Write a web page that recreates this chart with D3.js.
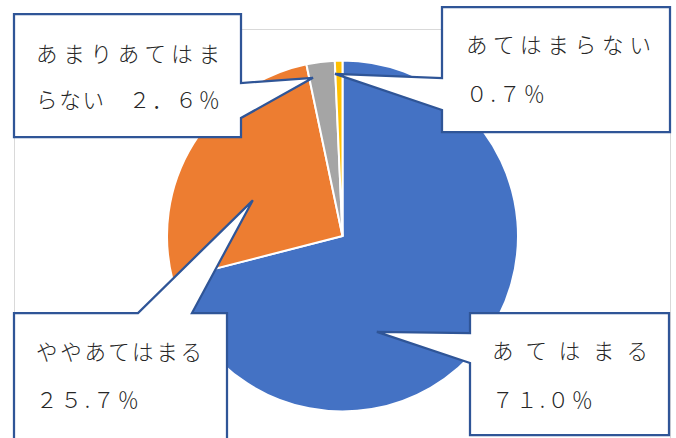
<!DOCTYPE html>
<html><head><meta charset="utf-8">
<script src="https://cdn.jsdelivr.net/npm/d3@7"></script>
<style>
html,body{margin:0;padding:0;background:#fff;}
svg{display:block;}
text{font-family:"Noto Sans CJK JP","Noto Sans",sans-serif;font-weight:300;fill:#262626;}
</style></head>
<body><svg id="c" width="676" height="438"></svg>
<script>
// ---- data ----
const categories = ["あてはまる", "ややあてはまる", "あまりあてはまらない", "あてはまらない"];
const values = [71.0, 25.7, 2.6, 0.7];
const labelLine1 = ["あてはまる", "ややあてはまる", "あまりあてはま", "あてはまらない"];
const labelLine2 = ["７１.０％", "２５.７％", "らない　２．６％", "０.７％"];
const colors = ["#4472C4", "#ED7D31", "#A5A5A5", "#FFC000"];

// ---- layout ----
const W = 676, H = 438;
const cx = 342.5, cy = 236, R = 175.5;
const FS = 21.5;
// callout box: rect x0,y0,x1,y1 ; side with pointer ; pointer base range ; tip (fraction in slice, radius ratio)
const callouts = [
  {box:[470,313,669,435], side:"left",  base:[333,363], f:0.627, k:0.58,
   l1:{x:492,y:349,w:156}, l2:{x:492,y:398,w:101}},
  {box:[14,313,227,470],  side:"top",   base:[138,192], f:0.39,  k:0.55,
   l1:{x:36,y:350,w:166}, l2:{x:36,y:398,w:103}},
  {box:[14,14,241,137],   side:"right", base:[83,118],  f:0.14,  k:0.917,
   l1:{x:36,y:52,w:184}, l2:{x:36,y:98,w:184}},
  {box:[442,7,670,132],   side:"left",  base:[78,110],  f:-0.05, k:0.925,
   l1:{x:466,y:43,w:185}, l2:{x:466,y:92,w:79}}
];

const svg = d3.select("#c");

// plot frame
svg.append("rect").attr("x",14.5).attr("y",29.5).attr("width",656).attr("height",440)
  .attr("fill","none").attr("stroke","#D9D9D9").attr("stroke-width",1);

const pie = d3.pie().sort(null).value(d=>d)(values);
const arc = d3.arc().innerRadius(0).outerRadius(R);
const g = svg.append("g").attr("transform",`translate(${cx},${cy})`);
g.selectAll("path").data(pie).join("path")
  .attr("d",arc).attr("fill",(d,i)=>colors[i])
  .attr("stroke","#fff").attr("stroke-width",2).attr("stroke-linejoin","round");

function tipPoint(d,c){
  const a = d.startAngle + c.f*(d.endAngle-d.startAngle);
  const r = R*c.k;
  return [cx + r*Math.sin(a), cy - r*Math.cos(a)];
}

callouts.forEach((c,i)=>{
  const [x0,y0,x1,y1] = c.box;
  const t = tipPoint(pie[i],c);
  let p;
  if(c.side==="left"){
    p = `M${x0},${y0}H${x1}V${y1}H${x0}V${c.base[1]}L${t[0]},${t[1]}L${x0},${c.base[0]}Z`;
  } else if(c.side==="right"){
    p = `M${x0},${y0}H${x1}V${c.base[0]}L${t[0]},${t[1]}L${x1},${c.base[1]}V${y1}H${x0}Z`;
  } else {
    p = `M${x0},${y0}H${c.base[0]}L${t[0]},${t[1]}L${c.base[1]},${y0}H${x1}V${y1}H${x0}Z`;
  }
  svg.append("path").attr("d",p).attr("fill","#fff")
    .attr("stroke","#2F5597").attr("stroke-width",2.25).attr("stroke-linejoin","miter");
  [[labelLine1[i],c.l1],[labelLine2[i],c.l2]].forEach(([s,l])=>{
    const tx = svg.append("text").attr("x",l.x).attr("y",l.y)
      .attr("dominant-baseline","central")
      .attr("font-size",FS)
      .text(s);
    const n = Array.from(s).length;
    const nat = tx.node().getComputedTextLength();
    const ls = (l.w - nat)/(n-1);
    tx.attr("letter-spacing", ls);
  });
});
</script></body></html>
